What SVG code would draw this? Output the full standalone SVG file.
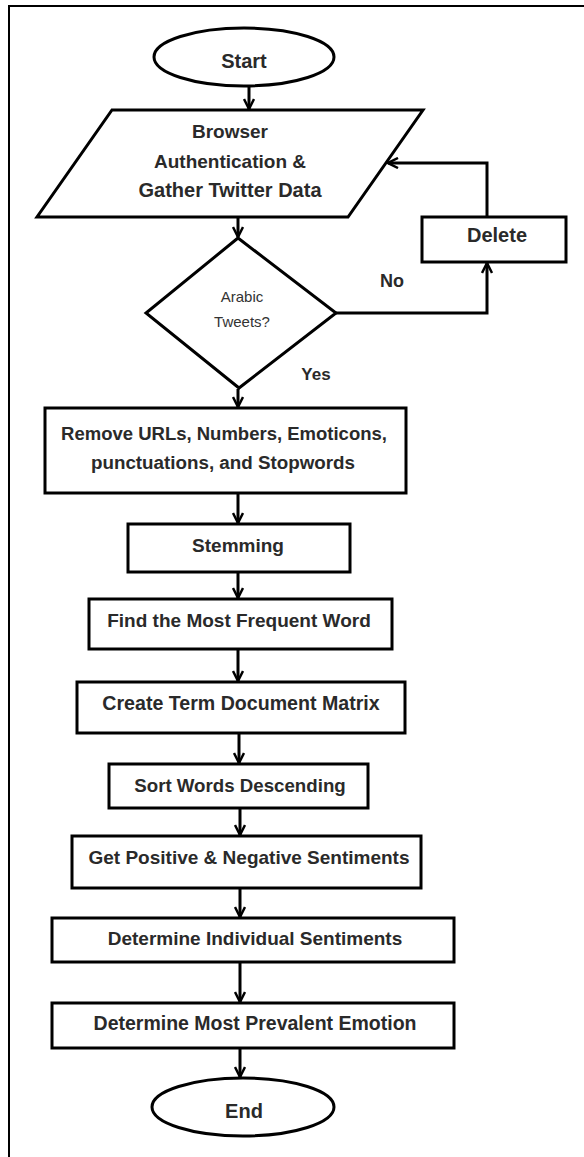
<svg xmlns="http://www.w3.org/2000/svg" width="584" height="1157" viewBox="0 0 584 1157">
<defs>
<style>
.shape{fill:#fff;stroke:#000;stroke-width:3}
.frame{fill:none;stroke:#000;stroke-width:2}
.conn{fill:none;stroke:#000;stroke-width:3}
.t{font-family:"Liberation Sans",Arial,sans-serif;font-weight:bold;font-size:19px;fill:#2a2a2a;text-anchor:middle}
.s{font-family:"Liberation Sans",Arial,sans-serif;font-size:15px;fill:#333;text-anchor:middle}
</style>
<marker id="arr" markerUnits="userSpaceOnUse" viewBox="0 0 12 12" refX="11" refY="6" markerWidth="12" markerHeight="12" orient="auto">
<path d="M1,1 L11,6 L1,11" fill="none" stroke="#000" stroke-width="2.5"/>
</marker>
</defs>
<rect width="584" height="1157" fill="#fff"/>
<path class="frame" d="M9,1157 L9,6 L584,6"/>
<g id="connectors">
<line class="conn" x1="249" y1="86" x2="249" y2="109" marker-end="url(#arr)"/>
<line class="conn" x1="238" y1="218" x2="238" y2="237" marker-end="url(#arr)"/>
<path class="conn" d="M336,313 L487,313 L487,263" marker-end="url(#arr)"/>
<path class="conn" d="M487,217 L487,163 L388,163" marker-end="url(#arr)"/>
<line class="conn" x1="238" y1="389" x2="238" y2="407" marker-end="url(#arr)"/>
<line class="conn" x1="238" y1="494" x2="238" y2="523" marker-end="url(#arr)"/>
<line class="conn" x1="238" y1="573" x2="238" y2="598" marker-end="url(#arr)"/>
<line class="conn" x1="238" y1="650" x2="238" y2="681" marker-end="url(#arr)"/>
<line class="conn" x1="239" y1="734" x2="239" y2="763" marker-end="url(#arr)"/>
<line class="conn" x1="240" y1="809" x2="240" y2="835" marker-end="url(#arr)"/>
<line class="conn" x1="240" y1="889" x2="240" y2="917" marker-end="url(#arr)"/>
<line class="conn" x1="240" y1="963" x2="240" y2="1002" marker-end="url(#arr)"/>
<line class="conn" x1="240" y1="1049" x2="240" y2="1077" marker-end="url(#arr)"/>
<text class="t" x="392" y="287" style="font-size:18px">No</text>
<text class="t" x="316" y="380" style="font-size:17px">Yes</text>
</g>
<g id="start">
<ellipse class="shape" cx="244" cy="57" rx="90" ry="29"/>
<text class="t" x="244" y="68" style="font-size:20px">Start</text>
</g>
<g id="browser">
<polygon class="shape" points="112,110 423,110 348,217 37,217"/>
<text class="t" x="230" y="138">Browser</text>
<text class="t" x="230" y="168">Authentication &amp;</text>
<text class="t" x="230" y="197" style="font-size:20px">Gather Twitter Data</text>
</g>
<g id="decision">
<polygon class="shape" points="238,238 336,313 239,388 146,313"/>
<text class="s" x="242" y="302">Arabic</text>
<text class="s" x="242" y="327">Tweets?</text>
</g>
<g id="delete">
<rect class="shape" x="422" y="217" width="144" height="45"/>
<text class="t" x="497" y="242" style="font-size:20px">Delete</text>
</g>
<g id="remove">
<rect class="shape" x="45" y="408" width="361" height="85"/>
<text class="t" x="224" y="440" style="font-size:18.5px">Remove URLs, Numbers, Emoticons,</text>
<text class="t" x="223" y="469" style="font-size:18.8px">punctuations, and Stopwords</text>
</g>
<g id="stemming">
<rect class="shape" x="128" y="524" width="222" height="48"/>
<text class="t" x="238" y="552">Stemming</text>
</g>
<g id="frequent">
<rect class="shape" x="89" y="599" width="303" height="50"/>
<text class="t" x="239" y="627">Find the Most Frequent Word</text>
</g>
<g id="tdm">
<rect class="shape" x="77" y="682" width="328" height="51"/>
<text class="t" x="241" y="710" style="font-size:19.6px">Create Term Document Matrix</text>
</g>
<g id="sort">
<rect class="shape" x="109" y="764" width="259" height="44"/>
<text class="t" x="240" y="792" style="font-size:18.7px">Sort Words Descending</text>
</g>
<g id="posneg">
<rect class="shape" x="72" y="836" width="349" height="52"/>
<text class="t" x="249" y="864">Get Positive &amp; Negative Sentiments</text>
</g>
<g id="individual">
<rect class="shape" x="52" y="918" width="402" height="44"/>
<text class="t" x="255" y="945">Determine Individual Sentiments</text>
</g>
<g id="prevalent">
<rect class="shape" x="52" y="1003" width="402" height="45"/>
<text class="t" x="255" y="1030" style="font-size:19.5px">Determine Most Prevalent Emotion</text>
</g>
<g id="end">
<ellipse class="shape" cx="243" cy="1107" rx="91" ry="29"/>
<text class="t" x="244" y="1118" style="font-size:20px">End</text>
</g>
</svg>
